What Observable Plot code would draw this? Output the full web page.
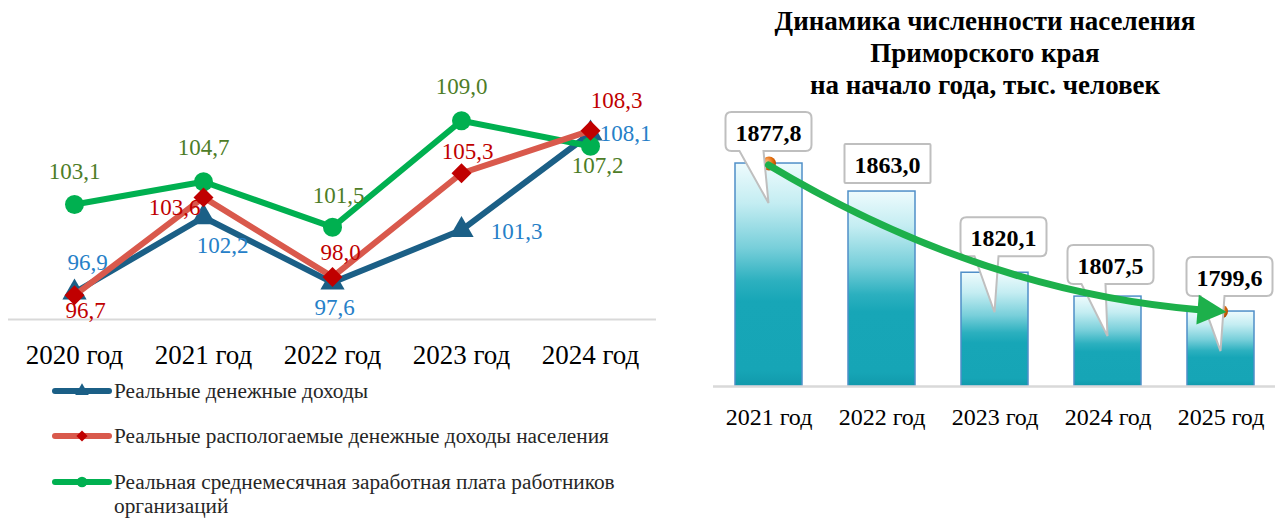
<!DOCTYPE html>
<html><head><meta charset="utf-8">
<script src="https://cdn.jsdelivr.net/npm/d3@7"></script>
<script src="https://cdn.jsdelivr.net/npm/@observablehq/plot@0.6"></script>
<style>
body{margin:0;background:#fff;}
#wrap{position:relative;width:1285px;height:518px;overflow:hidden;background:#fff;font-family:'Liberation Serif',serif;}
#left{position:absolute;left:0;top:0;}
.leg{position:absolute;left:50px;height:24px;display:flex;align-items:flex-start;font-size:21.3px;color:#262626;line-height:24px;font-family:'Liberation Serif',serif;}
.leg svg{flex:none;margin-right:2px;}
#right{position:absolute;left:700px;top:0;width:585px;}
#title{position:absolute;left:0;top:0;width:570px;height:100px;text-align:center;font-weight:bold;font-size:27px;line-height:32px;padding-top:5px;box-sizing:border-box;color:#000;font-family:'Liberation Serif',serif;}
#rchart{position:absolute;left:0;top:100px;}
svg text{font-family:'Liberation Serif',serif;}
</style></head>
<body>
<div id="wrap">
  <div id="left"></div>
  <div id="legend"></div>
  <div id="right">
    <div id="title"></div>
    <div id="rchart"></div>
  </div>
</div>
<script>
// ---------- data: left chart ----------
const years = ["2020 год", "2021 год", "2022 год", "2023 год", "2024 год"];
const realIncome = [96.9, 102.2, 97.6, 101.3, 108.1];
const disposableIncome = [96.7, 103.6, 98.0, 105.3, 108.3];
const realWage = [103.1, 104.7, 101.5, 109.0, 107.2];
const seriesNames = [
  "Реальные денежные доходы",
  "Реальные распологаемые денежные доходы населения",
  "Реальная среднемесячная заработная плата работников организаций"
];
// ---------- data: right chart ----------
const popYears = ["2021 год", "2022 год", "2023 год", "2024 год", "2025 год"];
const population = [1877.8, 1863.0, 1820.1, 1807.5, 1799.6];
const chartTitle = ["Динамика численности населения", "Приморского края", "на начало года, тыс. человек"];

const fmt = v => v.toFixed(1).replace(".", ",");
const FONT = "'Liberation Serif', serif";

document.getElementById("title").innerHTML = chartTitle.join("<br>");

// ---------- styles / layout ----------
const styles = [
  {line: "#1B5F86", mark: "#1B5F86", label: "#2680C8", symbol: "triangle", r: 9},
  {line: "#D9594C", mark: "#C00000", label: "#C00000", symbol: "diamond2", r: 9},
  {line: "#00B050", mark: "#00B050", label: "#4E7D27", symbol: "circle", r: 9.5}
];
const labelOffsets = [
  [[13, -30], [19, 28], [2, 25], [55, 2], [35, 0]],
  [[11, 15], [-29, 10], [8, -24], [6, -22], [26, -30]],
  [[0, -33], [0, -34], [6, -32], [0, -34], [7, 19]]
];
const seriesValues = [realIncome, disposableIncome, realWage];
const tables = seriesValues.map((vals, s) => years.map((year, i) => ({year, value: vals[i], s, i})));

// draw order: blue, green, red
const order = [0, 2, 1];
const leftMarks = [Plot.ruleY([95], {stroke: "#d9d9d9", strokeWidth: 2})];
for (const s of order) {
  const st = styles[s];
  leftMarks.push(Plot.line(tables[s], {x: "year", y: "value", stroke: st.line, strokeWidth: 6, strokeLinejoin: "round"}));
  leftMarks.push(Plot.dot(tables[s], {x: "year", y: "value", symbol: st.symbol, r: st.r, fill: st.mark, stroke: "none"}));
}
for (const s of [0, 1, 2]) {
  tables[s].forEach((d, i) => {
    leftMarks.push(Plot.text([d], {
      x: "year", y: "value", text: d => fmt(d.value),
      dx: labelOffsets[s][i][0], dy: labelOffsets[s][i][1],
      fill: styles[s].label, fontSize: 23, fontFamily: FONT
    }));
  });
}
leftMarks.push(Plot.axisX({tickSize: 0, tickPadding: 25, fontSize: 27, fill: "#000", fontFamily: FONT}));

const left = Plot.plot({
  width: 660, height: 370,
  marginLeft: 8, marginRight: 4, marginTop: 106, marginBottom: 51,
  style: {fontFamily: FONT, background: "transparent", overflow: "visible"},
  x: {type: "point", domain: years, padding: 0.5, label: null},
  y: {domain: [95, 110], axis: null},
  marks: leftMarks
});
document.getElementById("left").appendChild(left);

// legend
const legendTops = [379, 424, 470];
const legend = document.getElementById("legend");
seriesNames.forEach((name, s) => {
  const st = styles[s];
  const div = document.createElement("div");
  div.className = "leg";
  div.style.top = legendTops[s] + "px";
  const sym = d3.symbol(st.symbol === "triangle" ? d3.symbolTriangle : st.symbol === "diamond2" ? d3.symbolDiamond2 : d3.symbolCircle,
    st.symbol === "circle" ? 90 : 80)();
  div.innerHTML = `<svg width="62" height="24"><line x1="5" x2="59" y1="12" y2="12" stroke="${st.line}" stroke-width="6" stroke-linecap="round"/><path transform="translate(32,12)" d="${sym}" fill="${st.mark}"/></svg>`;
  const span = document.createElement("span");
  span.style.fontFamily = FONT;
  if (s === 2) {
    span.innerHTML = "Реальная среднемесячная заработная плата работников<br>организаций";
  } else span.textContent = name;
  div.appendChild(span);
  legend.appendChild(div);
});

// ---------- right chart ----------
const popData = popYears.map((year, i) => ({year, value: population[i], i}));
const yMin = 1760;
const boxLayout = [
  {dx: 0, gap: 12, ptr: true},
  {dx: 6, gap: 8, ptr: false},
  {dx: 9, gap: 16, ptr: true},
  {dx: 3, gap: 12, ptr: true},
  {dx: 9, gap: 15, ptr: true}
];

const defs = () => {
  const g = d3.create("svg:defs");
  const lg = g.append("linearGradient").attr("id", "barGrad").attr("x1", 0).attr("x2", 0).attr("y1", 0).attr("y2", 1);
  [[0, "#eefbfd"], [0.18, "#c4edf2"], [0.38, "#78cfda"], [0.53, "#2cb0bf"], [0.62, "#17a6b7"], [0.93, "#16a5b6"], [1, "#1199ab"]].forEach(([o, c]) =>
    lg.append("stop").attr("offset", o).attr("stop-color", c));
  const rg = g.append("radialGradient").attr("id", "dotGrad").attr("cx", 0.35).attr("cy", 0.35).attr("r", 0.7);
  rg.append("stop").attr("offset", 0).attr("stop-color", "#fbb47a");
  rg.append("stop").attr("offset", 0.6).attr("stop-color", "#e46c0a");
  rg.append("stop").attr("offset", 1).attr("stop-color", "#a94a05");
  return g.node();
};

function callouts(index, scales) {
  const {x, y} = scales;
  const bw = x.bandwidth();
  const g = d3.create("svg:g");
  popData.forEach((d, i) => {
    const L = boxLayout[i];
    const cx = x(d.year) + bw / 2;
    const top = y(d.value);
    const w = 86, h = 39, r = L.ptr ? 6 : 1;
    const bx = cx + L.dx - w / 2, by = top - L.gap - h;
    const right = bx + w, bottom = by + h;
    let p = `M${bx + r},${by}H${right - r}Q${right},${by} ${right},${by + r}V${bottom - r}Q${right},${bottom} ${right - r},${bottom}`;
    if (L.ptr) p += `H${bx + 38}L${cx},${top + 40}L${bx + 14},${bottom}`;
    p += `H${bx + r}Q${bx},${bottom} ${bx},${bottom - r}V${by + r}Q${bx},${by} ${bx + r},${by}Z`;
    g.append("path").attr("d", p).attr("fill", "#fff").attr("stroke", "#bfbfbf").attr("stroke-width", 2);
    g.append("text").attr("x", bx + w / 2).attr("y", by + h / 2 + 1).attr("text-anchor", "middle")
      .attr("dominant-baseline", "central").attr("font-weight", "bold").attr("font-size", 24)
      .style("font-family", FONT).attr("fill", "#000").text(fmt(d.value));
  });
  return g.node();
}

function trendArrow(index, scales) {
  const {x, y} = scales;
  const bw = x.bandwidth();
  const first = popData[0], last = popData[popData.length - 1];
  const S = [x(first.year) + bw / 2, y(first.value) + 2];
  const E = [x(last.year) + bw / 2 + 6, y(last.value) + 1];
  const M = [(S[0] + E[0]) / 2, (S[1] + E[1]) / 2];
  const dx = E[0] - S[0], dy = E[1] - S[1], len = Math.hypot(dx, dy);
  const n = [-dy / len, dx / len];
  const sag = 28;
  const C = [M[0] + n[0] * 2 * sag, M[1] + n[1] * 2 * sag];
  const ux = E[0] - C[0], uy = E[1] - C[1], ul = Math.hypot(ux, uy);
  const u = [ux / ul, uy / ul], pn = [-u[1], u[0]];
  const headL = 29, headW = 15;
  const B = [E[0] - u[0] * headL, E[1] - u[1] * headL];
  const Ee = [E[0] - u[0] * (headL - 4), E[1] - u[1] * (headL - 4)];
  const g = d3.create("svg:g");
  g.append("path").attr("d", `M${S[0]},${S[1]}Q${C[0]},${C[1]} ${Ee[0]},${Ee[1]}`)
    .attr("fill", "none").attr("stroke", "#1DB04B").attr("stroke-width", 7).attr("stroke-linecap", "round");
  g.append("path").attr("d", `M${E[0]},${E[1]}L${B[0] + pn[0] * headW},${B[1] + pn[1] * headW}L${B[0] - pn[0] * headW},${B[1] - pn[1] * headW}Z`)
    .attr("fill", "#1DB04B");
  return g.node();
}

const right = Plot.plot({
  width: 585, height: 335,
  marginLeft: 13, marginRight: 10, marginTop: 21, marginBottom: 49,
  style: {fontFamily: FONT, background: "transparent", overflow: "visible"},
  x: {domain: popYears, paddingInner: 0.41, paddingOuter: 0.18, label: null},
  y: {domain: [yMin, 1900], axis: null},
  marks: [
    defs,
    Plot.barY(popData, {x: "year", y1: yMin, y2: "value", fill: "url(#barGrad)", stroke: "#4F8FC8", strokeWidth: 1.5}),
    Plot.ruleY([yMin], {stroke: "#d9d9d9", strokeWidth: 2.5}),
    Plot.dot([popData[0], popData[popData.length - 1]], {x: "year", y: "value", r: 7, fill: "url(#dotGrad)"}),
    callouts,
    trendArrow,
    Plot.axisX({tickSize: 0, tickPadding: 21, fontSize: 24, fill: "#000", fontFamily: FONT})
  ]
});
document.getElementById("rchart").appendChild(right);
</script>
</body></html>
